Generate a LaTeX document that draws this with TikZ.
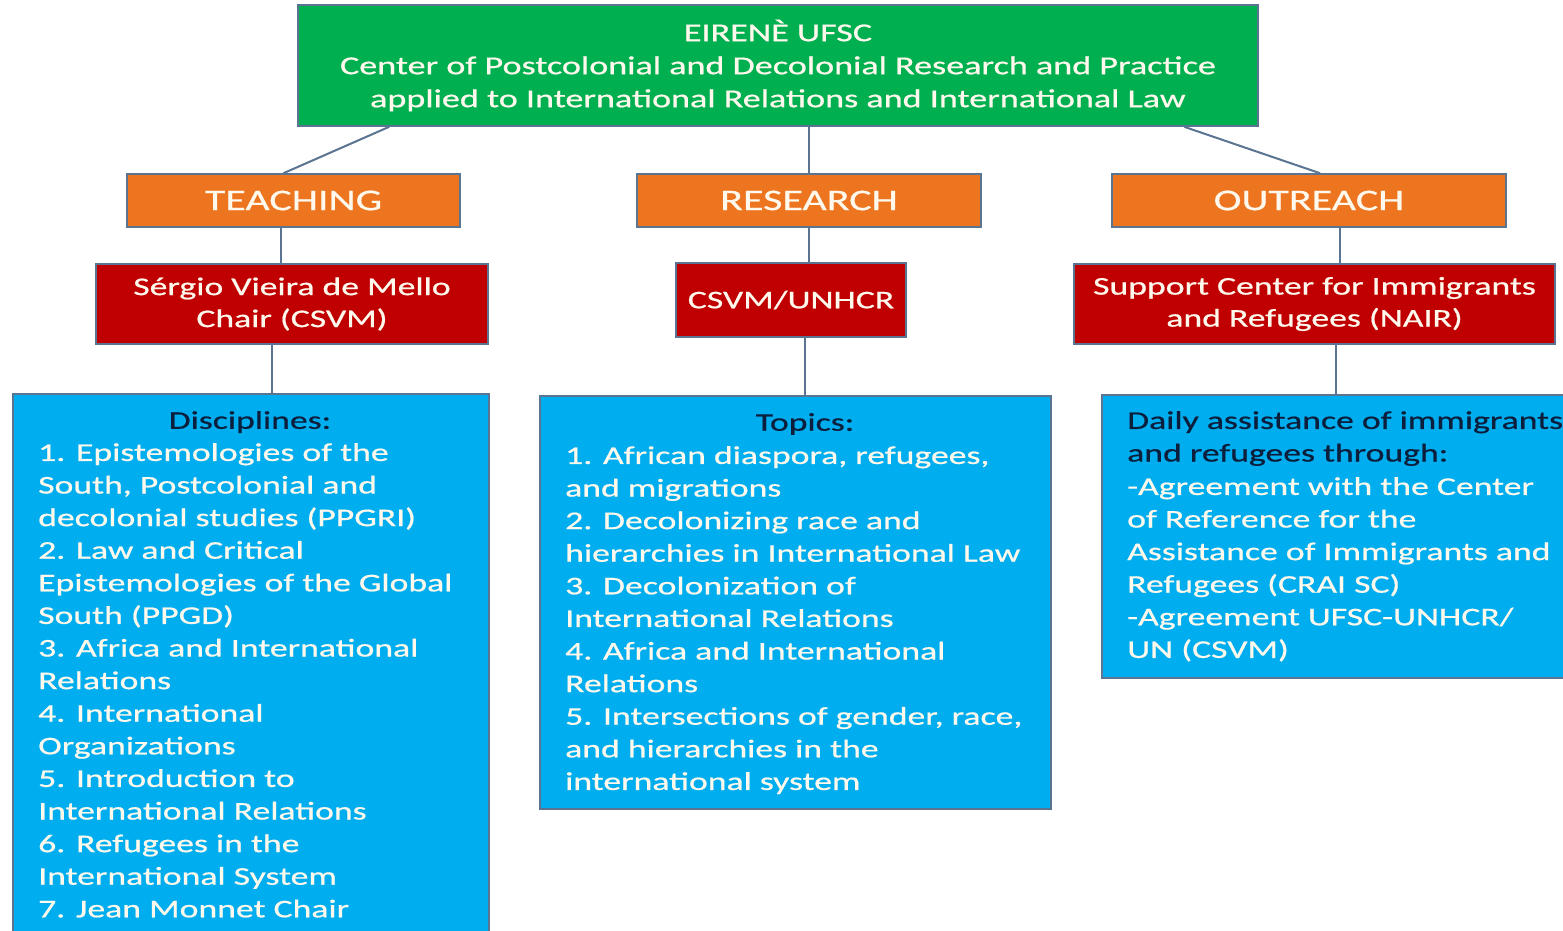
\documentclass[tikz,border=0pt]{standalone}
\usepackage{fontspec}
\setmainfont{Carlito}
\newfontfamily\widefont[FakeStretch=1.40,FakeBold=0.7]{Carlito}
\usetikzlibrary{calc}
\definecolor{cgreen}{HTML}{00B050}
\definecolor{corange}{HTML}{ED7520}
\definecolor{cred}{HTML}{C00000}
\definecolor{cblue}{HTML}{00AEEF}
\definecolor{cedge}{HTML}{5A7491}
\definecolor{ctxt}{HTML}{FFF8EC}
\definecolor{cdark}{HTML}{0B1E3C}
\tikzset{
  box/.style={draw=cedge, line width=1.6pt, inner sep=0pt, align=center, text=ctxt},
  greenbox/.style={box, fill=cgreen, font=\widefont\fontsize{25.8}{33}\selectfont},
  orangebox/.style={box, fill=corange, font=\widefont\fontsize{30}{34}\selectfont},
  redbox/.style={box, fill=cred, font=\widefont\fontsize{25.5}{32}\selectfont},
  bluebox/.style={box, fill=cblue},
  bodytext/.style={inner sep=0pt, align=left, anchor=north west, text=ctxt, font=\widefont\fontsize{25.5}{32.6}\selectfont},
  headtext/.style={inner sep=0pt, text=cdark, font=\widefont\fontsize{25.5}{32.6}\selectfont},
  link/.style={draw=cedge, line width=2pt}
}
\begin{document}
\begin{tikzpicture}[x=1pt,y=-1pt]
\useasboundingbox (0,0) rectangle (1563,930);
\fill[white] (0,0) rectangle (1563,930);

\node[greenbox, minimum width=960pt, minimum height=121pt] (green) at (778,65.5)
  {EIRENÈ UFSC\\Center of Postcolonial and Decolonial Research and Practice\\applied to International Relations and International Law};

\node[orangebox, minimum width=333pt, minimum height=53pt] (teach) at (293.5,200.5) {TEACHING};
\node[orangebox, minimum width=344pt, minimum height=53pt] (res) at (809,200.5) {RESEARCH};
\node[orangebox, minimum width=394pt, minimum height=53pt] (out) at (1309,200.5) {OUTREACH};

\node[redbox, minimum width=392pt, minimum height=80pt] (sergio) at (292,304) {Sérgio Vieira de Mello\\Chair (CSVM)};
\node[redbox, minimum width=230pt, minimum height=74pt] (csvm) at (791,300) {CSVM/UNHCR};
\node[redbox, minimum width=481pt, minimum height=80pt] (nair) at (1314.5,304) {Support Center for Immigrants\\and Refugees (NAIR)};

\node[bluebox, minimum width=476pt, minimum height=560pt, anchor=north west] (disc) at (12,393) {};
\node[bluebox, minimum width=511pt, minimum height=413pt, anchor=north west] (topics) at (539,395) {};
\node[bluebox, minimum width=490pt, minimum height=283pt, anchor=north west] (daily) at (1101,394) {};

\node[headtext] (dischead) at (250,422) {Disciplines:};
\node[bodytext] (disctext) at (38,443) {1. Epistemologies of the\\South, Postcolonial and\\decolonial studies (PPGRI)\\2. Law and Critical\\Epistemologies of the Global\\South (PPGD)\\3. Africa and International\\Relations\\4. International\\Organizations\\5. Introduction to\\International Relations\\6. Refugees in the\\International System\\7. Jean Monnet Chair};

\node[headtext] (tophead) at (805,424) {Topics:};
\node[bodytext] (toptext) at (565,446) {1. African diaspora, refugees,\\and migrations\\2. Decolonizing race and\\hierarchies in International Law\\3. Decolonization of\\International Relations\\4. Africa and International\\Relations\\5. Intersections of gender, race,\\and hierarchies in the\\international system};

\node[headtext, align=left, anchor=north west] (dailyhead) at (1127,411) {Daily assistance of immigrants\\and refugees through:};
\node[bodytext] (dailytext) at (1127,477) {-Agreement with the Center\\of Reference for the\\Assistance of Immigrants and\\Refugees (CRAI SC)\\-Agreement UFSC-UNHCR/\\UN (CSVM)};

\draw[link] ($(green.south west)+(92,0)$) -- ($(teach.north)+(-10,0)$);
\draw[link] (res.north |- green.south) -- (res.north);
\draw[link] ($(green.south west)+(887,0)$) -- ($(out.north)+(11,0)$);
\draw[link] ([xshift=-13pt]teach.south) -- ([xshift=-13pt]teach.south |- sergio.north);
\draw[link] (res.south) -- (res.south |- csvm.north);
\draw[link] ([xshift=31pt]out.south) -- ([xshift=31pt]out.south |- nair.north);
\draw[link] ([xshift=-20pt]sergio.south) -- ([xshift=-20pt]sergio.south |- disc.north);
\draw[link] ([xshift=14pt]csvm.south) -- ([xshift=14pt]csvm.south |- topics.north);
\draw[link] ([xshift=21.5pt]nair.south) -- ([xshift=21.5pt]nair.south |- daily.north);
\end{tikzpicture}
\end{document}
